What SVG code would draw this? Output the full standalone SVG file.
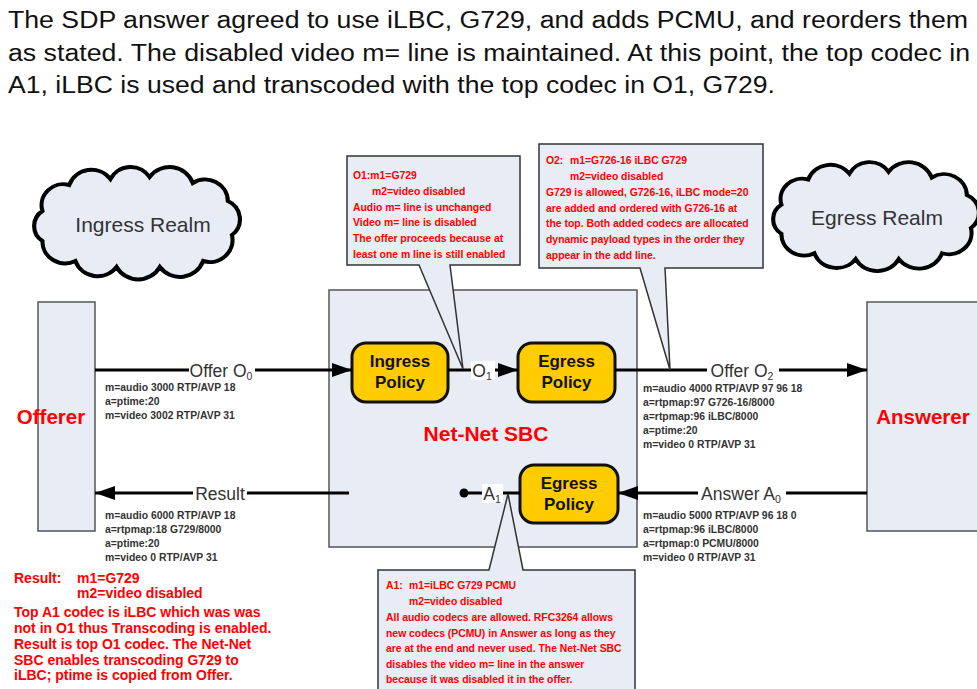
<svg xmlns="http://www.w3.org/2000/svg" width="977" height="689" viewBox="0 0 977 689">
<defs>
<style>
.title{font-family:"Liberation Sans",Arial,sans-serif;font-size:23.5px;fill:#111}
.realm{font-family:"Liberation Sans",Arial,sans-serif;font-size:21px;fill:#333;text-anchor:middle}
.cloud{fill:#E8ECF5;stroke:#000;stroke-width:4}
.panel{fill:#E8ECF5;stroke:#555;stroke-width:1.5}
.callout{fill:#E8ECF5;stroke:#333;stroke-width:1.5}
.policy{fill:#FFCC00;stroke:#111;stroke-width:3}
.ptxt{font-family:"Liberation Sans",Arial,sans-serif;font-size:17px;font-weight:bold;fill:#111;text-anchor:middle}
.big{font-family:"Liberation Sans",Arial,sans-serif;font-size:20.5px;font-weight:bold;fill:#FF0000;text-anchor:middle}
.note{font-family:"Liberation Sans",Arial,sans-serif;font-size:10.4px;font-weight:bold;fill:#FF0000}
.sdp{font-family:"Liberation Sans",Arial,sans-serif;font-size:10.4px;font-weight:bold;fill:#333}
.res{font-family:"Liberation Sans",Arial,sans-serif;font-size:14px;font-weight:bold;fill:#FF0000}
.lbl{font-family:"Liberation Sans",Arial,sans-serif;font-size:17.5px;fill:#333;text-anchor:middle}
.sub{font-size:10.5px}
.line{stroke:#000;stroke-width:3;fill:none}
.lblbg{fill:#fff}
</style>
<path id="cloudShape" d="M14,42 A21,21 0 0 1 40,16 A23,23 0 0 1 80,10 A22,22 0 0 1 118,8 A24,24 0 0 1 160,14 A22,22 0 0 1 194,32 A20,20 0 0 1 198,66 A22,22 0 0 1 170,92 A24,24 0 0 1 128,98 A24,24 0 0 1 86,98 A23,23 0 0 1 46,92 A22,22 0 0 1 14,72 A18,18 0 0 1 14,42 Z"/>
<marker id="arr" markerUnits="userSpaceOnUse" markerWidth="20" markerHeight="14" refX="20" refY="7" orient="auto">
<path d="M0,0 L20,7 L0,14 Z" fill="#000"/>
</marker>
</defs>
<rect width="977" height="689" fill="#fff"/>

<g id="title">
<text class="title" x="8" y="28" textLength="960" lengthAdjust="spacingAndGlyphs">The SDP answer agreed to use iLBC, G729, and adds PCMU, and reorders them</text>
<text class="title" x="8" y="60.5" textLength="962" lengthAdjust="spacingAndGlyphs">as stated. The disabled video m= line is maintained. At this point, the top codec in</text>
<text class="title" x="8" y="93" textLength="767" lengthAdjust="spacingAndGlyphs">A1, iLBC is used and transcoded with the top codec in O1, G729.</text>
</g>

<g id="ingress-realm">
<use href="#cloudShape" class="cloud" transform="translate(28,169) scale(1.03,1)"/>
<text class="realm" x="143" y="232">Ingress Realm</text>
</g>
<g id="egress-realm">
<use href="#cloudShape" class="cloud" transform="translate(767,164) scale(1.03,0.97)"/>
<text class="realm" x="877" y="224.5">Egress Realm</text>
</g>

<g id="offerer">
<rect class="panel" x="38" y="302" width="57" height="229"/>
<text class="big" x="51" y="424">Offerer</text>
</g>
<g id="answerer">
<rect class="panel" x="867" y="302" width="115" height="229"/>
<text class="big" x="923" y="424">Answerer</text>
</g>

<g id="sbc">
<rect class="panel" x="329" y="290" width="308" height="257"/>
<text class="big" x="486" y="441" style="font-size:21px">Net-Net SBC</text>
</g>

<g id="ingress-policy">
<rect class="policy" x="352" y="343" width="96" height="59" rx="14"/>
<text class="ptxt" x="400" y="367">Ingress</text>
<text class="ptxt" x="400" y="388">Policy</text>
</g>
<g id="egress-policy-offer">
<rect class="policy" x="518" y="343" width="97" height="59" rx="14"/>
<text class="ptxt" x="566.5" y="367">Egress</text>
<text class="ptxt" x="566.5" y="388">Policy</text>
</g>
<g id="egress-policy-answer">
<rect class="policy" x="520" y="465" width="98" height="58" rx="14"/>
<text class="ptxt" x="569" y="489">Egress</text>
<text class="ptxt" x="569" y="510">Policy</text>
</g>

<g id="connectors">
<line class="line" x1="95" y1="370" x2="352" y2="370" marker-end="url(#arr)"/>
<line class="line" x1="448" y1="370" x2="518" y2="370" marker-end="url(#arr)"/>
<line class="line" x1="615" y1="370" x2="867" y2="370" marker-end="url(#arr)"/>
<line class="line" x1="867" y1="493" x2="618" y2="493" marker-end="url(#arr)"/>
<line class="line" x1="520" y1="493" x2="464" y2="493"/>
<circle cx="464" cy="493" r="4.5" fill="#000"/>
<line class="line" x1="349" y1="493" x2="95" y2="493" marker-end="url(#arr)"/>
<rect class="lblbg" x="189" y="361" width="66" height="19"/>
<text class="lbl" x="221" y="377">Offer O<tspan class="sub" dy="3">0</tspan></text>
<rect class="lblbg" x="471" y="361" width="24" height="19"/>
<text class="lbl" x="482" y="377">O<tspan class="sub" dy="3">1</tspan></text>
<rect class="lblbg" x="707" y="361" width="72" height="19"/>
<text class="lbl" x="742" y="377">Offer O<tspan class="sub" dy="3">2</tspan></text>
<rect class="lblbg" x="698" y="484" width="88" height="19"/>
<text class="lbl" x="741" y="500">Answer A<tspan class="sub" dy="3">0</tspan></text>
<rect class="lblbg" x="482" y="484" width="21" height="19"/>
<text class="lbl" x="492" y="500">A<tspan class="sub" dy="3">1</tspan></text>
<rect class="lblbg" x="193" y="484" width="54" height="19"/>
<text class="lbl" x="220" y="500">Result</text>
</g>

<g id="sdp-offer-o0">
<text class="sdp" x="105" y="391">m=audio 3000 RTP/AVP 18</text>
<text class="sdp" x="105" y="405">a=ptime:20</text>
<text class="sdp" x="105" y="419">m=video 3002 RTP/AVP 31</text>
</g>
<g id="sdp-offer-o2">
<text class="sdp" x="643" y="392">m=audio 4000 RTP/AVP 97 96 18</text>
<text class="sdp" x="643" y="406">a=rtpmap:97 G726-16/8000</text>
<text class="sdp" x="643" y="420">a=rtpmap:96 iLBC/8000</text>
<text class="sdp" x="643" y="434">a=ptime:20</text>
<text class="sdp" x="643" y="448">m=video 0 RTP/AVP 31</text>
</g>
<g id="sdp-result">
<text class="sdp" x="105" y="519">m=audio 6000 RTP/AVP 18</text>
<text class="sdp" x="105" y="533">a=rtpmap:18 G729/8000</text>
<text class="sdp" x="105" y="547">a=ptime:20</text>
<text class="sdp" x="105" y="561">m=video 0 RTP/AVP 31</text>
</g>
<g id="sdp-answer-a0">
<text class="sdp" x="643" y="519">m=audio 5000 RTP/AVP 96 18 0</text>
<text class="sdp" x="643" y="533">a=rtpmap:96 iLBC/8000</text>
<text class="sdp" x="643" y="547">a=rtpmap:0 PCMU/8000</text>
<text class="sdp" x="643" y="561">m=video 0 RTP/AVP 31</text>
</g>

<g id="callout-o1">
<path class="callout" d="M347,156 H520 V265 H450 L463,369 L419,265 H347 Z"/>
<text class="note" x="353" y="179">O1:m1=G729</text>
<text class="note" x="372" y="195">m2=video disabled</text>
<text class="note" x="353" y="211">Audio m= line is unchanged</text>
<text class="note" x="353" y="226">Video m= line is disabled</text>
<text class="note" x="353" y="242">The offer proceeds because at</text>
<text class="note" x="353" y="258">least one m line is still enabled</text>
</g>
<g id="callout-o2">
<path class="callout" d="M539,144 H763 V268 H665 L670,370 L640,268 H539 Z"/>
<text class="note" x="546" y="164">O2:<tspan x="570">m1=G726-16 iLBC G729</tspan></text>
<text class="note" x="570" y="180">m2=video disabled</text>
<text class="note" x="546" y="196">G729 is allowed, G726-16, iLBC mode=20</text>
<text class="note" x="546" y="212">are added and ordered with G726-16 at</text>
<text class="note" x="546" y="227">the top. Both added codecs are allocated</text>
<text class="note" x="546" y="243">dynamic payload types in the order they</text>
<text class="note" x="546" y="259">appear in the add line.</text>
</g>
<g id="callout-a1">
<path class="callout" d="M378,700 V570 H489 L508,494 L523,570 H635 V700 Z"/>
<text class="note" x="386" y="589">A1:<tspan x="409">m1=iLBC G729 PCMU</tspan></text>
<text class="note" x="409" y="605">m2=video disabled</text>
<text class="note" x="386" y="621">All audio codecs are allowed. RFC3264 allows</text>
<text class="note" x="386" y="637">new codecs (PCMU) in Answer as long as they</text>
<text class="note" x="386" y="652">are at the end and never used. The Net-Net SBC</text>
<text class="note" x="386" y="668">disables the video m= line in the answer</text>
<text class="note" x="386" y="683">because it was  disabled it in the offer.</text>
</g>

<g id="result-note">
<text class="res" x="14" y="583">Result:<tspan x="77">m1=G729</tspan></text>
<text class="res" x="77" y="598">m2=video disabled</text>
<text class="res" x="14" y="617">Top A1 codec is iLBC which was was</text>
<text class="res" x="14" y="633">not in O1 thus Transcoding is enabled.</text>
<text class="res" x="14" y="649">Result is top O1 codec. The Net-Net</text>
<text class="res" x="14" y="665">SBC enables transcoding G729 to</text>
<text class="res" x="14" y="680">iLBC; ptime is copied from Offer.</text>
</g>
</svg>
